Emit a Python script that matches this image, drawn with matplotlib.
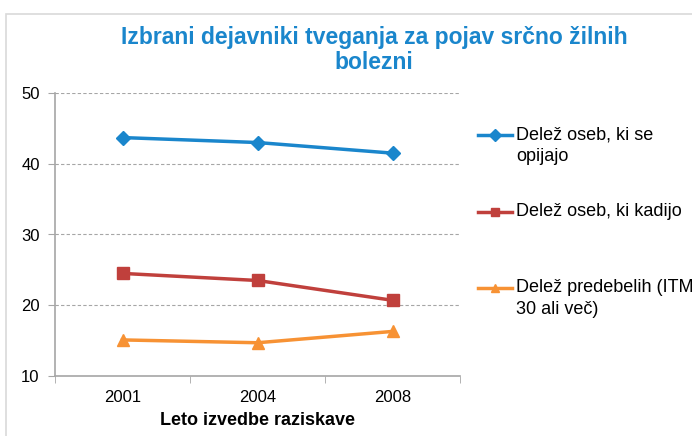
import numpy as np
import matplotlib.pyplot as plt
from matplotlib.patches import Rectangle
from matplotlib.lines import Line2D

# podatki
leta = ['2001', '2004', '2008']
opijajo = [43.7, 43.0, 41.5]
kadijo = [24.5, 23.5, 20.7]
predebeli = [15.1, 14.7, 16.3]
oznake = ['Delež oseb, ki se\nopijajo', 'Delež oseb, ki kadijo', 'Delež predebelih (ITM\n30 ali več)']

plt.rcParams['font.family'] = ['Liberation Sans', 'DejaVu Sans']

fig = plt.figure(figsize=(6.92, 4.36), dpi=100)
fig.patches.append(Rectangle((6 / 692, -0.1), 1.2, 1 - 14 / 436 + 0.1, transform=fig.transFigure,
                             fill=False, edgecolor='#d9d9d9', linewidth=1.2))

ax = fig.add_axes([55 / 692, 1 - 376 / 436, 405 / 692, 283 / 436])
x = np.arange(len(leta))

barve = ['#1a86cc', '#c0403c', '#f79234']
markerji = ['D', 's', '^']
velikosti = [7, 8, 9]
for vrednosti, b, m, v in zip([opijajo, kadijo, predebeli], barve, markerji, velikosti):
    ax.plot(x, vrednosti, color=b, linewidth=2.5, marker=m, markersize=v)

ax.set_xlim(-0.5, 2.5)
ax.set_ylim(10, 50)
ax.set_yticks([10, 20, 30, 40, 50])
ax.set_xticks(x)
ax.set_xticklabels(leta)
ax.set_xticks([-0.5, 0.5, 1.5, 2.5], minor=True)
ax.tick_params(axis='x', which='major', length=0, pad=10, labelsize=12)
ax.tick_params(axis='x', which='minor', length=5, color='#a6a6a6', direction='out')
ax.tick_params(axis='y', length=5, color='#a6a6a6', labelsize=12, pad=6)
ax.grid(axis='y', color='#a6a6a6', linestyle=(0, (3, 2)), linewidth=0.8)
ax.set_axisbelow(True)
for s in ['top', 'right']:
    ax.spines[s].set_visible(False)
for s in ['left', 'bottom']:
    ax.spines[s].set_color('#a6a6a6')
    ax.spines[s].set_linewidth(1.2)

ax.set_xlabel('Leto izvedbe raziskave', fontsize=13, fontweight='bold', labelpad=5)

fig.text(374 / 692, 1 - 50 / 436, 'Izbrani dejavniki tveganja za pojav srčno žilnih\nbolezni',
         ha='center', va='center', fontsize=16.5, fontweight='bold', color='#1a86cc',
         linespacing=1.15)

# legenda
leg_y = [135, 212, 288]
for lab, b, m, yy in zip(oznake, barve, markerji, leg_y):
    yf = 1 - yy / 436
    fig.add_artist(Line2D([478 / 692, 512 / 692], [yf, yf], transform=fig.transFigure,
                          color=b, linewidth=2.5))
    fig.add_artist(Line2D([495 / 692], [yf], transform=fig.transFigure, color=b,
                          marker=m, markersize=6, linestyle='none'))
    fig.text(516 / 692, 1 - (yy - 9) / 436, lab, ha='left', va='top', fontsize=13,
             linespacing=1.35)

fig.savefig('out.png', dpi=100)
